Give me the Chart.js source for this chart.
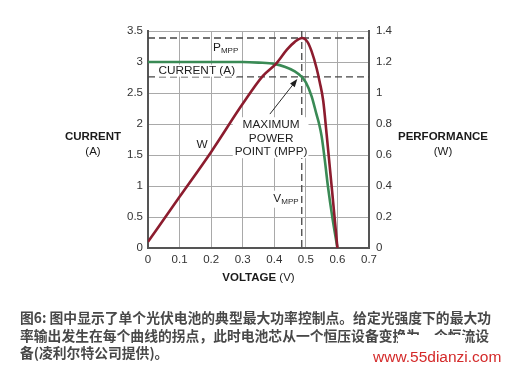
<!DOCTYPE html>
<html>
<head>
<meta charset="utf-8">
<script src="https://cdn.jsdelivr.net/npm/chart.js@4.4.1/dist/chart.umd.min.js"></script>
<style>
  html, body { margin: 0; padding: 0; background: #fff; }
  #wrap { position: relative; width: 507px; height: 372px; overflow: hidden; background: #fff; }
  #c { position: absolute; left: 0; top: 0; }
  #caption {
    position: absolute; left: 20px; top: 309px;
    font: 700 13.8px/17.5px "Noto Sans CJK SC", sans-serif;
    color: #484848; white-space: pre;
  }
  #mask { position: absolute; left: 398px; top: 335px; width: 67px; height: 9px; background: #fff; }
  #mark {
    position: absolute; left: 373px; top: 348px;
    font: 15.5px "Liberation Sans", Arial, sans-serif; color: #d42a2a;
  }
</style>
</head>
<body>
<div id="wrap">
  <canvas id="c" width="507" height="372"></canvas>
  <div id="caption">图6: 图中显示了单个光伏电池的典型最大功率控制点。给定光强度下的最大功
率输出发生在每个曲线的拐点，此时电池芯从一个恒压设备变换为一个恒流设
备(凌利尔特公司提供)。</div>
  <div id="mask"></div>
  <div id="mark">www.55dianzi.com</div>
</div>
<script>
// I-V curve of one photovoltaic cell (current, left axis)
const voltageCurrent = [0, 0.1, 0.2, 0.3, 0.35, 0.4, 0.435, 0.465, 0.487, 0.5, 0.518, 0.534, 0.542, 0.55, 0.56, 0.57, 0.584, 0.6];
const currentA       = [3.0, 3.0, 3.0, 3.0, 2.99, 2.97, 2.92, 2.85, 2.76, 2.67, 2.45, 2.15, 2.0, 1.8, 1.42, 0.99, 0.49, 0];

// output power of the cell (right axis)
const voltagePower = [0, 0.1, 0.2, 0.3, 0.364, 0.406, 0.44, 0.465, 0.488, 0.505, 0.518, 0.534, 0.544, 0.555, 0.566, 0.583, 0.6];
const powerW       = [0.04, 0.33, 0.62, 0.93, 1.11, 1.19, 1.28, 1.33, 1.355, 1.33, 1.27, 1.16, 1.07, 0.95, 0.73, 0.37, 0];

// maximum power point
const vMpp = 0.487;
const iMpp = 2.76;
const pMpp = 1.355;

// tick labels
const xTickLabels     = ['0', '0.1', '0.2', '0.3', '0.4', '0.5', '0.6', '0.7'];
const leftTickLabels  = ['0', '0.5', '1', '1.5', '2', '2.5', '3', '3.5'];
const rightTickLabels = ['0', '0.2', '0.4', '0.6', '0.8', '1', '1.2', '1.4'];

const FONT = '"Liberation Sans", Arial, Helvetica, sans-serif';
const tickFont = { family: FONT, size: 11.5 };
const GRID = '#a9a9a9';
const AXIS = '#555';

const toPoints = (xs, ys) => xs.map((x, i) => ({ x: x, y: ys[i] }));

function textWithSub(ctx, main, sub, x, y, size) {
  ctx.font = size + 'px ' + FONT;
  ctx.textAlign = 'left';
  ctx.textBaseline = 'middle';
  ctx.fillText(main, x, y);
  const w = ctx.measureText(main).width;
  ctx.font = (size * 0.68) + 'px ' + FONT;
  ctx.fillText(sub, x + w, y + 3);
}
function subWidth(ctx, main, sub, size) {
  ctx.font = size + 'px ' + FONT;
  const w = ctx.measureText(main).width;
  ctx.font = (size * 0.68) + 'px ' + FONT;
  return w + ctx.measureText(sub).width;
}

const mppPlugin = {
  id: 'mppMarks',
  beforeDatasetsDraw(chart) {
    const { ctx, chartArea: a, scales } = chart;
    const X = v => scales.x.getPixelForValue(v);
    const Y = v => scales.y.getPixelForValue(v);
    const Y2 = v => scales.y2.getPixelForValue(v);
    ctx.save();
    ctx.strokeStyle = '#454545';
    ctx.lineWidth = 1.3;
    ctx.setLineDash([7, 4]);
    ctx.beginPath();
    ctx.moveTo(a.left, Y2(pMpp)); ctx.lineTo(a.right, Y2(pMpp));
    ctx.moveTo(a.left, Y(iMpp)); ctx.lineTo(a.right, Y(iMpp));
    ctx.moveTo(X(vMpp), a.top); ctx.lineTo(X(vMpp), a.bottom);
    ctx.stroke();
    ctx.setLineDash([]);

    // white backing behind the in-plot labels
    ctx.fillStyle = '#fff';
    const size = 11.8;
    ctx.font = size + 'px ' + FONT;
    // CURRENT (A)
    let w = ctx.measureText('CURRENT (A)').width;
    ctx.fillRect(X(0.033) - 2, Y(2.86) - 6, w + 4, 12);
    // MAXIMUM POWER POINT (MPP)
    const cx = X(0.39);
    w = ctx.measureText('POINT (MPP)').width;
    ctx.fillRect(cx - w / 2 - 2, Y(1.98) - 8, w + 3, Y(1.545) - Y(1.98) + 14);
    // V_MPP
    w = subWidth(ctx, 'V', 'MPP', size);
    ctx.fillRect(X(0.397) - 1, Y(0.795) - 8, w + 3, 17);
    // P_MPP
    w = subWidth(ctx, 'P', 'MPP', size);
    ctx.fillRect(X(0.206) - 1, Y(3.23) - 6, w + 2, 12);
    ctx.restore();
  },
  afterDatasetsDraw(chart) {
    const { ctx, scales } = chart;
    const X = v => scales.x.getPixelForValue(v);
    const Y = v => scales.y.getPixelForValue(v);
    const size = 11.8;
    ctx.save();
    ctx.fillStyle = '#1e1e1e';
    textWithSub(ctx, 'P', 'MPP', X(0.206), Y(3.23), size);
    textWithSub(ctx, 'V', 'MPP', X(0.397), Y(0.795), size);
    ctx.font = size + 'px ' + FONT;
    ctx.textBaseline = 'middle';
    ctx.textAlign = 'left';
    ctx.fillText('CURRENT (A)', X(0.033), Y(2.86));
    ctx.textAlign = 'center';
    ctx.fillText('W', X(0.171), Y(1.66));
    ctx.fillText('MAXIMUM', X(0.39), Y(1.98));
    ctx.fillText('POWER', X(0.39), Y(1.76));
    ctx.fillText('POINT (MPP)', X(0.39), Y(1.545));

    // arrow pointing at the maximum power point
    const x0 = X(0.386), y0 = Y(2.16), x1 = X(0.473), y1 = Y(2.725);
    const ang = Math.atan2(y1 - y0, x1 - x0);
    ctx.strokeStyle = '#2a2a2a';
    ctx.lineWidth = 1;
    ctx.beginPath();
    ctx.moveTo(x0, y0);
    ctx.lineTo(x1 - 6 * Math.cos(ang), y1 - 6 * Math.sin(ang));
    ctx.stroke();
    ctx.fillStyle = '#1e1e1e';
    ctx.beginPath();
    ctx.moveTo(x1, y1);
    ctx.lineTo(x1 - 8 * Math.cos(ang) + 3 * Math.sin(ang), y1 - 8 * Math.sin(ang) - 3 * Math.cos(ang));
    ctx.lineTo(x1 - 8 * Math.cos(ang) - 3 * Math.sin(ang), y1 - 8 * Math.sin(ang) + 3 * Math.cos(ang));
    ctx.closePath();
    ctx.fill();
    ctx.restore();
  },
  afterDraw(chart) {
    const { ctx, chartArea: a } = chart;
    ctx.save();
    ctx.fillStyle = '#1a1a1a';
    ctx.textBaseline = 'middle';
    ctx.textAlign = 'center';
    const bold = 'bold 11.5px ' + FONT;
    const reg = '11.5px ' + FONT;
    // left axis title
    ctx.font = bold; ctx.fillText('CURRENT', 93, 136.5);
    ctx.font = reg;  ctx.fillText('(A)', 93, 151.5);
    // right axis title
    ctx.font = bold; ctx.fillText('PERFORMANCE', 443, 136.5);
    ctx.font = reg;  ctx.fillText('(W)', 443, 152);
    // x axis title, bold word followed by regular unit
    ctx.font = bold;
    const w1 = ctx.measureText('VOLTAGE').width;
    ctx.font = reg;
    const w2 = ctx.measureText(' (V)').width;
    const left = (a.left + a.right) / 2 - (w1 + w2) / 2;
    ctx.textAlign = 'left';
    ctx.font = bold; ctx.fillText('VOLTAGE', left, 278);
    ctx.font = reg;  ctx.fillText(' (V)', left + w1, 278);
    ctx.restore();
  }
};

new Chart(document.getElementById('c'), {
  type: 'scatter',
  data: {
    datasets: [
      {
        label: 'Current (A)',
        data: toPoints(voltageCurrent, currentA),
        yAxisID: 'y',
        showLine: true,
        borderColor: '#3a8a55',
        borderWidth: 2.6,
        pointRadius: 0,
        cubicInterpolationMode: 'monotone',
        order: 1
      },
      {
        label: 'Power (W)',
        data: toPoints(voltagePower, powerW),
        yAxisID: 'y2',
        showLine: true,
        borderColor: '#8c1c2e',
        borderWidth: 2.6,
        pointRadius: 0,
        cubicInterpolationMode: 'monotone',
        order: 0
      }
    ]
  },
  options: {
    responsive: false,
    animation: false,
    devicePixelRatio: 1,
    layout: { padding: { top: 31, left: 0, right: 0, bottom: 0 } },
    plugins: { legend: { display: false }, tooltip: { enabled: false } },
    scales: {
      x: {
        type: 'linear', min: 0, max: 0.7,
        ticks: { stepSize: 0.1, padding: 5, color: '#333', font: tickFont, maxRotation: 0, autoSkip: false,
                 callback: (v, i) => xTickLabels[i] },
        grid: { color: GRID, lineWidth: 1, drawTicks: false },
        border: { color: AXIS, width: 2 },
        afterFit(s) { s.height = 124; }
      },
      y: {
        position: 'left', min: 0, max: 3.5,
        ticks: { stepSize: 0.5, padding: 5, color: '#333', font: tickFont,
                 callback: (v, i) => leftTickLabels[i] },
        grid: { color: GRID, lineWidth: 1, drawTicks: false },
        border: { color: AXIS, width: 2 },
        afterFit(s) { s.width = 148; }
      },
      y2: {
        position: 'right', min: 0, max: 1.4,
        ticks: { stepSize: 0.2, padding: 7, color: '#333', font: tickFont,
                 callback: (v, i) => rightTickLabels[i] },
        grid: { drawOnChartArea: false, drawTicks: false },
        border: { color: AXIS, width: 2 },
        afterFit(s) { s.width = 138; }
      }
    }
  },
  plugins: [mppPlugin]
});
</script>
</body>
</html>
